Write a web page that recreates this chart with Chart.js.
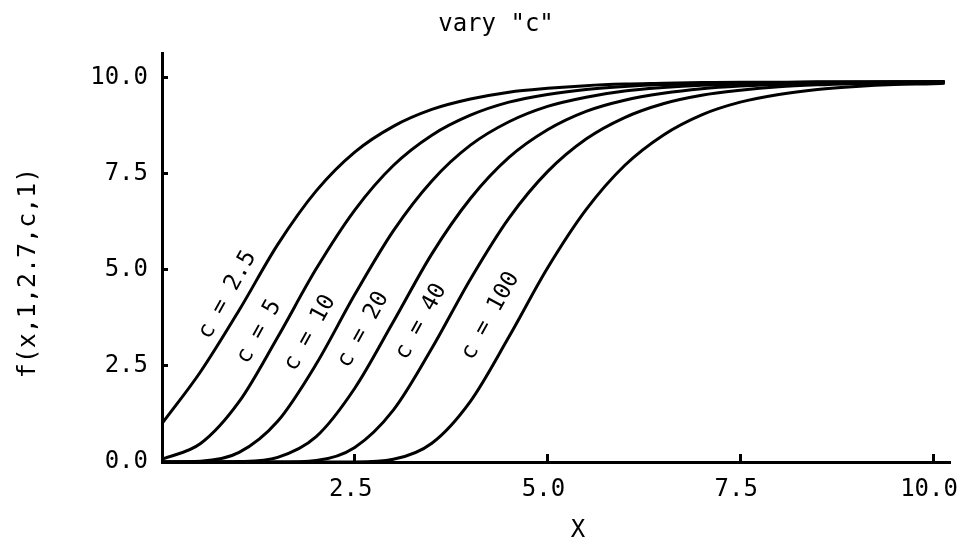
<!DOCTYPE html>
<html><head><meta charset="utf-8">
<script src="https://cdn.jsdelivr.net/npm/chart.js@4/dist/chart.umd.min.js"></script>
<style>html,body{margin:0;padding:0;background:#fff}#wrap{width:962px;height:546px}</style>
</head><body><div id="wrap"><canvas id="c" width="962" height="546"></canvas></div>
<script>
const chartTitle = 'vary "c"';
const xAxisTitle = 'X';
const yAxisTitle = 'f(x,1,2.7,c,1)';

const xValues = [0,0.5,1,1.5,2,2.5,3,3.5,4,4.5,5,5.5,6,6.5,7,7.5,8,8.5,9,9.5,10,10.15];
const seriesC2_5 = [1.0,2.35,3.95,5.66,7.06,8.07,8.74,9.18,9.45,9.63,9.73,9.80,9.84,9.86,9.88,9.89,9.89,9.90,9.90,9.90,9.90,9.90];
const seriesC5   = [0.07,0.48,1.57,3.25,5.03,6.56,7.72,8.51,9.03,9.37,9.57,9.70,9.78,9.83,9.85,9.87,9.88,9.89,9.89,9.90,9.90,9.90];
const seriesC10  = [0,0.02,0.25,1.06,2.55,4.36,6.02,7.32,8.25,8.86,9.26,9.50,9.66,9.75,9.81,9.84,9.87,9.88,9.89,9.89,9.90,9.90];
const seriesC20  = [0,0,0.01,0.12,0.66,1.92,3.65,5.42,6.86,7.93,8.65,9.13,9.42,9.60,9.72,9.79,9.83,9.86,9.88,9.88,9.89,9.89];
const seriesC40  = [0,0,0,0,0.04,0.38,1.35,2.96,4.76,6.35,7.56,8.41,8.97,9.33,9.55,9.68,9.77,9.82,9.85,9.87,9.88,9.88];
const seriesC100 = [0,0,0,0,0,0,0.07,0.49,1.58,3.26,5.05,6.57,7.72,8.51,9.04,9.37,9.57,9.70,9.78,9.83,9.85,9.86];

const curveLabels = ['c = 2.5','c = 5','c = 10','c = 20','c = 40','c = 100'];
const labelAnchorX = [0.85,1.26,1.92,2.61,3.36,4.26];
const labelAnchorY = [4.35,3.39,3.36,3.44,3.65,3.80];

const xTickValues = [2.5,5,7.5,10];
const xTickLabels = ['2.5','5.0','7.5','10.0'];
const yTickValues = [0,2.5,5,7.5,10];
const yTickLabels = ['0.0','2.5','5.0','7.5','10.0'];

const allSeries = [seriesC2_5,seriesC5,seriesC10,seriesC20,seriesC40,seriesC100];

const MONO = '"DejaVu Sans Mono", monospace';

const textPlugin = {
  id: 'texts',
  afterDraw(chart) {
    const ctx = chart.ctx, xs = chart.scales.x, ys = chart.scales.y;
    ctx.save();
    ctx.fillStyle = '#000';
    ctx.textAlign = 'center';
    ctx.textBaseline = 'middle';
    ctx.font = '24px ' + MONO;
    ctx.fillText(chartTitle, 496, 25);
    ctx.fillText(xAxisTitle, 578, 531);
    ctx.save();
    ctx.translate(28, 273);
    ctx.rotate(-Math.PI / 2);
    ctx.font = '25px ' + MONO;
    ctx.fillText(yAxisTitle, 0, 0);
    ctx.restore();
    ctx.font = '23px ' + MONO;
    curveLabels.forEach((t, i) => {
      ctx.save();
      ctx.translate(xs.getPixelForValue(labelAnchorX[i]), ys.getPixelForValue(labelAnchorY[i]));
      ctx.rotate(-61 * Math.PI / 180);
      ctx.fillText(t, 0, 0);
      ctx.restore();
    });
    ctx.restore();
  }
};

new Chart(document.getElementById('c'), {
  type: 'line',
  data: {
    datasets: allSeries.map((s, k) => ({
      label: curveLabels[k],
      data: xValues.map((x, i) => ({x: x, y: s[i]})),
      borderColor: '#000',
      borderWidth: 3,
      pointRadius: 0,
      fill: false,
      cubicInterpolationMode: 'monotone'
    }))
  },
  options: {
    responsive: false,
    animation: false,
    layout: {padding: {top: 53, right: 12, left: 0, bottom: 0}},
    plugins: {legend: {display: false}, title: {display: false}, tooltip: {enabled: false}},
    scales: {
      x: {
        type: 'linear', min: 0, max: 10.22,
        afterBuildTicks: s => { s.ticks = xTickValues.map(v => ({value: v})); },
        afterFit: s => { s.height = 84; s.paddingLeft = 0; s.paddingRight = 0; },
        ticks: {
          autoSkip: false, maxRotation: 0, padding: 21, labelOffset: -4,
          color: '#000', font: {family: MONO, size: 24},
          callback: v => { const i = xTickValues.indexOf(v); return i >= 0 ? xTickLabels[i] : ''; }
        },
        grid: {display: true, drawOnChartArea: false, drawTicks: true, tickLength: -8, tickWidth: 3, tickColor: '#000'},
        border: {display: true, color: '#000', width: 3}
      },
      y: {
        type: 'linear', min: 0, max: 10.65,
        afterBuildTicks: s => { s.ticks = yTickValues.map(v => ({value: v})); },
        afterFit: s => { s.width = 162; s.paddingTop = 0; s.paddingBottom = 0; },
        ticks: {
          autoSkip: false, padding: 20,
          color: '#000', font: {family: MONO, size: 24},
          callback: v => { const i = yTickValues.indexOf(v); return i >= 0 ? yTickLabels[i] : ''; }
        },
        grid: {display: true, drawOnChartArea: false, drawTicks: true, tickLength: -6, tickWidth: 3, tickColor: '#000'},
        border: {display: true, color: '#000', width: 3}
      }
    }
  },
  plugins: [textPlugin]
});
</script>
</body></html>
